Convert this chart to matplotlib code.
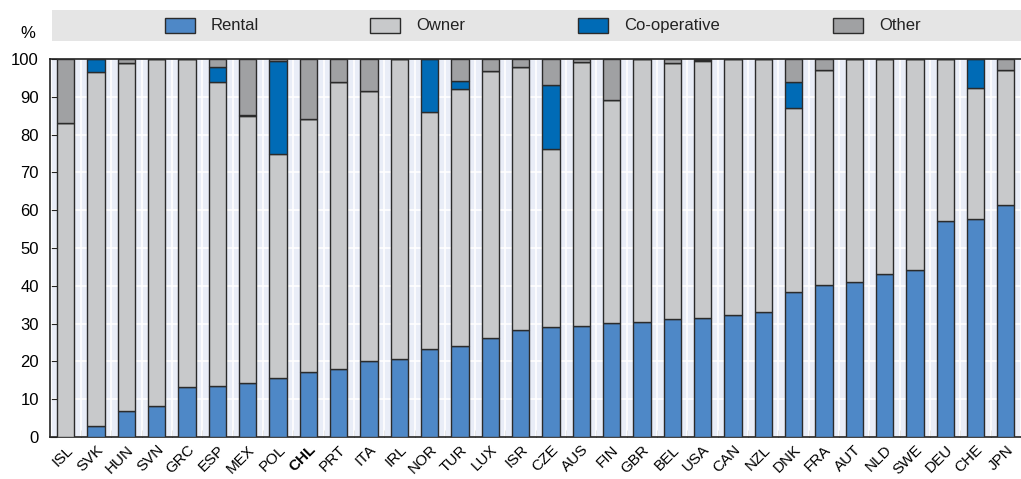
import matplotlib
matplotlib.use("Agg")
import matplotlib.pyplot as plt
import numpy as np
from matplotlib.patches import Rectangle

countries = ["ISL", "SVK", "HUN", "SVN", "GRC", "ESP", "MEX", "POL", "CHL", "PRT", "ITA",
             "IRL", "NOR", "TUR", "LUX", "ISR", "CZE", "AUS", "FIN", "GBR", "BEL", "USA",
             "CAN", "NZL", "DNK", "FRA", "AUT", "NLD", "SWE", "DEU", "CHE", "JPN"]
rental = [0.0, 2.8, 7.0, 8.2, 13.3, 13.5, 14.2, 15.5, 17.2, 18.0, 20.2,
          20.7, 23.2, 24.2, 26.3, 28.2, 29.2, 29.4, 30.1, 30.3, 31.2, 31.6,
          32.2, 33.1, 38.3, 40.1, 41.1, 43.1, 44.1, 57.2, 57.6, 61.4]
owner = [83.1, 93.7, 92.0, 91.8, 86.7, 80.3, 70.7, 59.3, 66.9, 76.0, 71.4,
         79.3, 62.9, 67.8, 70.5, 69.8, 47.0, 69.7, 59.1, 69.7, 67.8, 67.9,
         67.8, 66.9, 48.8, 57.0, 58.9, 56.9, 55.9, 42.8, 34.6, 35.7]
coop = [0.0, 3.5, 0.0, 0.0, 0.0, 4.0, 0.3, 24.6, 0.0, 0.0, 0.0,
        0.0, 13.9, 2.3, 0.0, 0.0, 16.9, 0.0, 0.0, 0.0, 0.0, 0.3,
        0.0, 0.0, 6.9, 0.0, 0.0, 0.0, 0.0, 0.0, 7.8, 0.0]
other = [16.9, 0.0, 1.0, 0.0, 0.0, 2.2, 14.8, 0.6, 15.9, 6.0, 8.4,
         0.0, 0.0, 5.7, 3.2, 2.0, 6.9, 0.9, 10.8, 0.0, 1.0, 0.2,
         0.0, 0.0, 6.0, 2.9, 0.0, 0.0, 0.0, 0.0, 0.0, 2.9]
series_names = ["Rental", "Owner", "Co-operative", "Other"]
colors = ["#4e88c7", "#c8c9cb", "#006bb6", "#a0a1a3"]

plt.rcParams["font.family"] = ["Liberation Sans", "DejaVu Sans"]

W, H = 1021, 479
fig = plt.figure(figsize=(W / 100, H / 100), dpi=100)
ax = fig.add_axes([50 / W, 1 - 437 / H, 971 / W, (437 - 59) / H])
ax.set_facecolor("#e9edf7")

x = np.arange(len(countries))
bottom = np.zeros(len(countries))
for vals, c in zip([rental, owner, coop, other], colors):
    v = np.array(vals)
    ax.bar(x, v, bottom=bottom, width=0.57, color=c, edgecolor="#2b2b2b",
           linewidth=1.0, zorder=3)
    bottom += v

ax.set_xlim(-0.52, 31.04)
ax.set_ylim(0, 100)
ax.set_yticks(np.arange(0, 101, 10))
ax.set_yticklabels([str(v) for v in range(0, 101, 10)], fontsize=12)
ax.yaxis.grid(True, color="white", linewidth=1.2, zorder=1)
for b in np.arange(-0.5, len(countries), 1.0):
    ax.axvline(b, color="white", linewidth=1.2, zorder=1)
ax.set_axisbelow(True)

ax.set_xticks(x)
ax.set_xticklabels(countries, rotation=45, ha="right", rotation_mode="anchor", fontsize=11)
for lbl in ax.get_xticklabels():
    if lbl.get_text() == "CHL":
        lbl.set_fontweight("bold")
ax.tick_params(axis="x", length=0, pad=4)
ax.set_xticks(np.arange(0.5, len(countries), 1.0), minor=True)
ax.tick_params(axis="x", which="minor", direction="in", length=5, color="#555555")
ax.tick_params(axis="y", direction="in", length=5, color="#222222", pad=8)

for s in ["left", "bottom", "top"]:
    ax.spines[s].set_color("#222222")
    ax.spines[s].set_linewidth(1.2)
ax.spines["right"].set_visible(False)

fig.text(28 / W, 1 - 33 / H, "%", fontsize=12, ha="center", va="center")

# legend band
band = fig.add_axes([52 / W, 1 - 41 / H, 969 / W, 31 / H])
band.set_facecolor("#e5e5e5")
band.set_xticks([])
band.set_yticks([])
band.set_xlim(52, W)
band.set_ylim(41, 10)
for s in band.spines.values():
    s.set_visible(False)
patch_x = [165, 370, 578, 833]
for px, c, name in zip(patch_x, colors, series_names):
    band.add_patch(Rectangle((px, 18), 30, 15, facecolor=c, edgecolor="#2b2b2b", linewidth=1.0))
    band.text(px + 46, 25.5, name, fontsize=12, va="center", ha="left", color="#222222")

fig.savefig("out.png", dpi=100)
